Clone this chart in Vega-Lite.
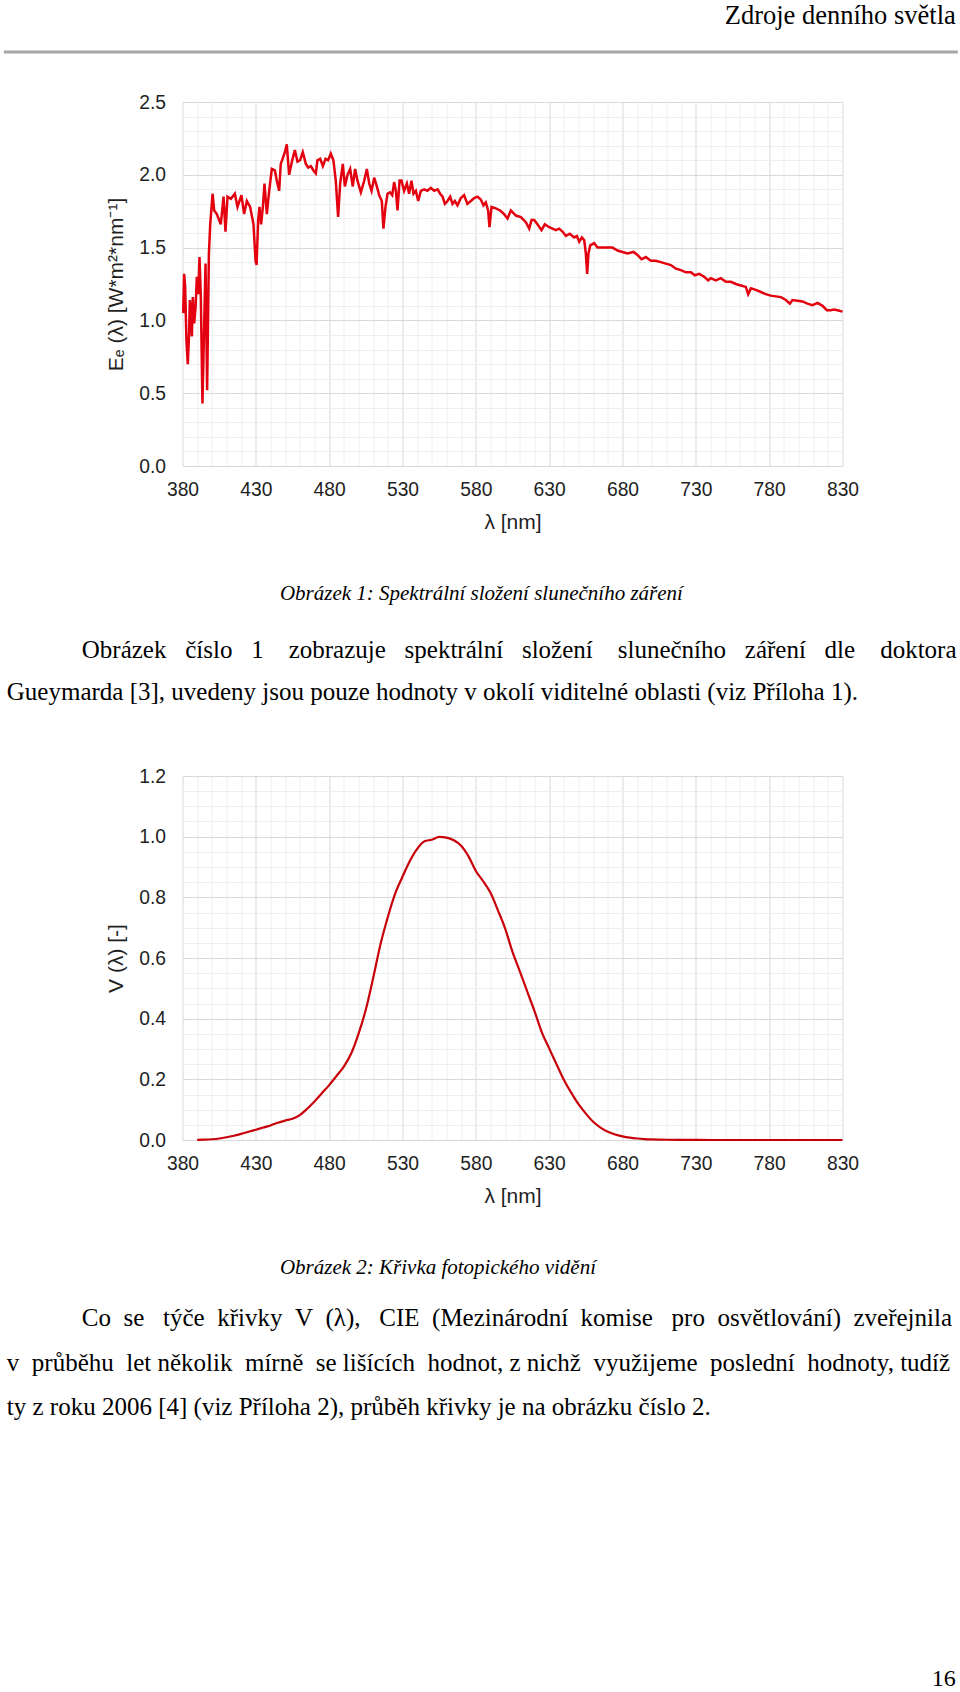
{
  "$schema": "https://vega.github.io/schema/vega-lite/v6.json",
  "background": "white",
  "padding": {"left": 1.5, "top": 3, "right": 0, "bottom": 0},
  "bounds": "flush",
  "spacing": 310,
  "title": {"text": "Zdroje denního světla", "anchor": "end", "orient": "top", "frame": "bounds", "dx": -3.5, "offset": 20.7, "font": "Liberation Serif", "fontSize": 26.5, "fontWeight": "normal", "color": "#000000"},
  "config": {
    "view": {"stroke": null},
    "axis": {"labelFont": "Liberation Sans", "titleFont": "Liberation Sans", "labelColor": "#1f1f1f", "titleColor": "#1f1f1f", "titleFontWeight": "normal", "labelFontSize": 19.3, "titleFontSize": 21, "domain": false, "ticks": false, "labelFlush": false, "labelOverlap": false, "gridWidth": 1}
  },
  "datasets": {
    "sun": [
      {"wl": 380.5, "E": 1.05}, {"wl": 381.1, "E": 1.32}, {"wl": 381.8, "E": 1.23}, {"wl": 382.7, "E": 0.86}, {"wl": 383.6, "E": 0.70},
      {"wl": 384.5, "E": 0.91}, {"wl": 385.0, "E": 1.14}, {"wl": 385.7, "E": 1.05}, {"wl": 386.4, "E": 0.89}, {"wl": 387.0, "E": 1.16},
      {"wl": 388.0, "E": 0.98}, {"wl": 388.9, "E": 1.09}, {"wl": 389.8, "E": 1.30}, {"wl": 390.7, "E": 1.18}, {"wl": 391.6, "E": 1.435},
      {"wl": 392.5, "E": 1.16}, {"wl": 393.6, "E": 0.43}, {"wl": 394.3, "E": 0.75}, {"wl": 395.7, "E": 1.39}, {"wl": 396.8, "E": 0.52},
      {"wl": 398.0, "E": 1.46}, {"wl": 398.9, "E": 1.66}, {"wl": 400.5, "E": 1.87}, {"wl": 401.6, "E": 1.755}, {"wl": 403.4, "E": 1.73},
      {"wl": 406.1, "E": 1.66}, {"wl": 408.0, "E": 1.85}, {"wl": 409.3, "E": 1.61}, {"wl": 410.7, "E": 1.85}, {"wl": 413.0, "E": 1.835},
      {"wl": 415.7, "E": 1.87}, {"wl": 417.5, "E": 1.78}, {"wl": 420.2, "E": 1.86}, {"wl": 422.0, "E": 1.73}, {"wl": 423.9, "E": 1.82},
      {"wl": 426.1, "E": 1.78}, {"wl": 428.4, "E": 1.66}, {"wl": 429.8, "E": 1.41}, {"wl": 430.5, "E": 1.38}, {"wl": 431.6, "E": 1.69},
      {"wl": 432.5, "E": 1.78}, {"wl": 433.6, "E": 1.66}, {"wl": 434.8, "E": 1.78}, {"wl": 435.9, "E": 1.94}, {"wl": 437.5, "E": 1.73},
      {"wl": 439.1, "E": 1.89}, {"wl": 440.9, "E": 2.04}, {"wl": 443.0, "E": 2.03}, {"wl": 444.3, "E": 1.96}, {"wl": 445.9, "E": 1.89},
      {"wl": 447.0, "E": 2.075}, {"wl": 448.6, "E": 2.12}, {"wl": 449.8, "E": 2.155}, {"wl": 451.1, "E": 2.21}, {"wl": 452.7, "E": 2.00},
      {"wl": 454.8, "E": 2.10}, {"wl": 456.6, "E": 2.17}, {"wl": 458.4, "E": 2.09}, {"wl": 460.2, "E": 2.10}, {"wl": 462.0, "E": 2.155},
      {"wl": 464.1, "E": 2.075}, {"wl": 465.7, "E": 2.05}, {"wl": 467.5, "E": 2.06}, {"wl": 469.3, "E": 2.03}, {"wl": 470.9, "E": 2.01},
      {"wl": 472.0, "E": 2.10}, {"wl": 473.9, "E": 2.11}, {"wl": 475.7, "E": 2.06}, {"wl": 477.5, "E": 2.11}, {"wl": 479.3, "E": 2.10},
      {"wl": 481.1, "E": 2.145}, {"wl": 482.9, "E": 2.10}, {"wl": 484.5, "E": 1.96}, {"wl": 486.1, "E": 1.71}, {"wl": 487.5, "E": 1.94},
      {"wl": 489.3, "E": 2.075}, {"wl": 490.7, "E": 1.92}, {"wl": 492.5, "E": 2.00}, {"wl": 494.3, "E": 2.04}, {"wl": 496.1, "E": 1.92},
      {"wl": 497.7, "E": 2.04}, {"wl": 499.3, "E": 1.96}, {"wl": 501.6, "E": 1.88}, {"wl": 503.9, "E": 1.96}, {"wl": 505.7, "E": 2.04},
      {"wl": 507.3, "E": 1.94}, {"wl": 508.9, "E": 1.89}, {"wl": 510.7, "E": 1.98}, {"wl": 512.5, "E": 1.92}, {"wl": 514.1, "E": 1.86},
      {"wl": 515.9, "E": 1.82}, {"wl": 517.0, "E": 1.63}, {"wl": 518.4, "E": 1.78}, {"wl": 519.8, "E": 1.87}, {"wl": 521.4, "E": 1.88},
      {"wl": 523.0, "E": 1.86}, {"wl": 524.3, "E": 1.95}, {"wl": 525.5, "E": 1.89}, {"wl": 526.6, "E": 1.755}, {"wl": 528.0, "E": 1.96},
      {"wl": 529.3, "E": 1.96}, {"wl": 531.1, "E": 1.89}, {"wl": 533.0, "E": 1.94}, {"wl": 534.5, "E": 1.87}, {"wl": 536.1, "E": 1.96},
      {"wl": 537.5, "E": 1.87}, {"wl": 539.1, "E": 1.89}, {"wl": 540.7, "E": 1.82}, {"wl": 542.5, "E": 1.89}, {"wl": 544.8, "E": 1.90},
      {"wl": 547.0, "E": 1.89}, {"wl": 549.3, "E": 1.91}, {"wl": 551.6, "E": 1.89}, {"wl": 553.9, "E": 1.90}, {"wl": 555.7, "E": 1.87},
      {"wl": 557.3, "E": 1.85}, {"wl": 558.9, "E": 1.80}, {"wl": 560.7, "E": 1.82}, {"wl": 562.5, "E": 1.85}, {"wl": 564.1, "E": 1.80},
      {"wl": 565.7, "E": 1.82}, {"wl": 567.5, "E": 1.79}, {"wl": 569.8, "E": 1.84}, {"wl": 572.0, "E": 1.86}, {"wl": 574.3, "E": 1.80},
      {"wl": 576.6, "E": 1.82}, {"wl": 578.9, "E": 1.84}, {"wl": 581.1, "E": 1.85}, {"wl": 583.4, "E": 1.83}, {"wl": 585.2, "E": 1.79},
      {"wl": 586.8, "E": 1.81}, {"wl": 588.4, "E": 1.755}, {"wl": 589.3, "E": 1.64}, {"wl": 590.7, "E": 1.78}, {"wl": 593.6, "E": 1.77},
      {"wl": 596.6, "E": 1.755}, {"wl": 599.3, "E": 1.73}, {"wl": 601.6, "E": 1.70}, {"wl": 603.9, "E": 1.755}, {"wl": 607.3, "E": 1.72},
      {"wl": 610.7, "E": 1.71}, {"wl": 614.1, "E": 1.675}, {"wl": 616.4, "E": 1.63}, {"wl": 618.0, "E": 1.69}, {"wl": 619.8, "E": 1.69},
      {"wl": 622.0, "E": 1.66}, {"wl": 624.8, "E": 1.62}, {"wl": 627.0, "E": 1.66}, {"wl": 630.0, "E": 1.64}, {"wl": 632.3, "E": 1.63},
      {"wl": 634.5, "E": 1.62}, {"wl": 636.8, "E": 1.63}, {"wl": 639.1, "E": 1.61}, {"wl": 641.4, "E": 1.58}, {"wl": 644.1, "E": 1.595},
      {"wl": 647.0, "E": 1.57}, {"wl": 648.9, "E": 1.58}, {"wl": 650.5, "E": 1.54}, {"wl": 652.3, "E": 1.57}, {"wl": 653.9, "E": 1.55},
      {"wl": 655.0, "E": 1.46}, {"wl": 655.9, "E": 1.32}, {"wl": 656.8, "E": 1.46}, {"wl": 658.0, "E": 1.515}, {"wl": 660.7, "E": 1.53},
      {"wl": 663.0, "E": 1.50}, {"wl": 666.4, "E": 1.50}, {"wl": 669.8, "E": 1.50}, {"wl": 673.2, "E": 1.50}, {"wl": 676.6, "E": 1.48},
      {"wl": 680.0, "E": 1.47}, {"wl": 683.4, "E": 1.46}, {"wl": 687.5, "E": 1.47}, {"wl": 690.2, "E": 1.45}, {"wl": 693.0, "E": 1.42},
      {"wl": 695.9, "E": 1.435}, {"wl": 699.3, "E": 1.41}, {"wl": 702.7, "E": 1.41}, {"wl": 706.1, "E": 1.40}, {"wl": 709.5, "E": 1.39},
      {"wl": 713.0, "E": 1.38}, {"wl": 716.4, "E": 1.355}, {"wl": 719.8, "E": 1.345}, {"wl": 723.2, "E": 1.33}, {"wl": 726.6, "E": 1.33},
      {"wl": 729.3, "E": 1.31}, {"wl": 732.3, "E": 1.32}, {"wl": 735.7, "E": 1.30}, {"wl": 738.4, "E": 1.275}, {"wl": 740.2, "E": 1.29},
      {"wl": 743.6, "E": 1.275}, {"wl": 747.0, "E": 1.29}, {"wl": 750.5, "E": 1.265}, {"wl": 753.9, "E": 1.265}, {"wl": 757.3, "E": 1.25},
      {"wl": 760.7, "E": 1.24}, {"wl": 764.1, "E": 1.23}, {"wl": 765.7, "E": 1.18}, {"wl": 767.5, "E": 1.22}, {"wl": 770.9, "E": 1.21},
      {"wl": 774.3, "E": 1.195}, {"wl": 777.7, "E": 1.18}, {"wl": 781.1, "E": 1.17}, {"wl": 784.5, "E": 1.165}, {"wl": 788.0, "E": 1.16},
      {"wl": 791.4, "E": 1.14}, {"wl": 794.1, "E": 1.115}, {"wl": 795.9, "E": 1.14}, {"wl": 799.3, "E": 1.135}, {"wl": 802.7, "E": 1.13},
      {"wl": 806.1, "E": 1.115}, {"wl": 809.5, "E": 1.105}, {"wl": 813.0, "E": 1.12}, {"wl": 816.4, "E": 1.10}, {"wl": 819.3, "E": 1.07},
      {"wl": 822.0, "E": 1.07}, {"wl": 824.3, "E": 1.075}, {"wl": 826.6, "E": 1.07}, {"wl": 830.0, "E": 1.06}
    ],
    "vlam": [
      {"wl": 390, "V": 0.0004}, {"wl": 395, "V": 0.001}, {"wl": 400, "V": 0.0025}, {"wl": 405, "V": 0.005}, {"wl": 410, "V": 0.009},
      {"wl": 415, "V": 0.014}, {"wl": 420, "V": 0.020}, {"wl": 425, "V": 0.027}, {"wl": 430, "V": 0.034}, {"wl": 435, "V": 0.041},
      {"wl": 440, "V": 0.048}, {"wl": 445, "V": 0.057}, {"wl": 450, "V": 0.064}, {"wl": 455, "V": 0.070}, {"wl": 460, "V": 0.082},
      {"wl": 465, "V": 0.103}, {"wl": 470, "V": 0.127}, {"wl": 475, "V": 0.154}, {"wl": 480, "V": 0.181}, {"wl": 485, "V": 0.211},
      {"wl": 490, "V": 0.242}, {"wl": 495, "V": 0.285}, {"wl": 500, "V": 0.350}, {"wl": 505, "V": 0.430}, {"wl": 510, "V": 0.534},
      {"wl": 515, "V": 0.645}, {"wl": 520, "V": 0.735}, {"wl": 525, "V": 0.812}, {"wl": 530, "V": 0.868}, {"wl": 535, "V": 0.920},
      {"wl": 540, "V": 0.960}, {"wl": 545, "V": 0.985}, {"wl": 550, "V": 0.990}, {"wl": 555, "V": 0.999}, {"wl": 560, "V": 0.997},
      {"wl": 565, "V": 0.988}, {"wl": 570, "V": 0.970}, {"wl": 575, "V": 0.935}, {"wl": 580, "V": 0.887}, {"wl": 585, "V": 0.853},
      {"wl": 590, "V": 0.815}, {"wl": 595, "V": 0.758}, {"wl": 600, "V": 0.697}, {"wl": 605, "V": 0.620}, {"wl": 610, "V": 0.556},
      {"wl": 615, "V": 0.490}, {"wl": 620, "V": 0.425}, {"wl": 625, "V": 0.355}, {"wl": 630, "V": 0.302}, {"wl": 635, "V": 0.250},
      {"wl": 640, "V": 0.199}, {"wl": 645, "V": 0.156}, {"wl": 650, "V": 0.118}, {"wl": 655, "V": 0.087}, {"wl": 660, "V": 0.060},
      {"wl": 665, "V": 0.041}, {"wl": 670, "V": 0.027}, {"wl": 675, "V": 0.018}, {"wl": 680, "V": 0.012}, {"wl": 685, "V": 0.0078},
      {"wl": 690, "V": 0.005}, {"wl": 695, "V": 0.0032}, {"wl": 700, "V": 0.0021}, {"wl": 710, "V": 0.0009}, {"wl": 720, "V": 0.0004},
      {"wl": 730, "V": 0.0002}, {"wl": 750, "V": 0.00005}, {"wl": 780, "V": 0.00001}, {"wl": 830, "V": 0.000001}
    ]
  },
  "vconcat": [
    {
      "width": 660,
      "height": 364,
      "layer": [
        {
          "data": {"values": [{"item": "header rule"}]},
          "mark": {"type": "rule", "color": "#a6a6a6", "strokeWidth": 3, "strokeCap": "butt"},
          "encoding": {
            "x": {"datum": 258.2, "type": "quantitative", "scale": {"domain": [380, 830], "nice": false, "zero": false},
              "axis": {"orient": "bottom", "values": [390, 400, 410, 420, 440, 450, 460, 470, 490, 500, 510, 520, 540, 550, 560, 570, 590, 600, 610, 620, 640, 650, 660, 670, 690, 700, 710, 720, 740, 750, 760, 770, 790, 800, 810, 820],
                "grid": true, "gridColor": "#eeeeee", "labels": false,
                "title": "Obrázek 1: Spektrální složení slunečního záření", "titleFont": "Liberation Serif", "titleFontStyle": "italic", "titleFontSize": 21, "titleColor": "#000000",
                "titleX": 96.9, "titleY": 127.3, "titleAlign": "left", "titleAnchor": "start", "titleBaseline": "middle"}},
            "x2": {"datum": 908.6},
            "y": {"datum": 2.8434, "type": "quantitative", "scale": {"domain": [0, 2.5], "nice": false, "zero": false},
              "axis": {"orient": "left", "values": [0.1, 0.2, 0.3, 0.4, 0.6, 0.7, 0.8, 0.9, 1.1, 1.2, 1.3, 1.4, 1.6, 1.7, 1.8, 1.9, 2.1, 2.2, 2.3, 2.4],
                "grid": true, "gridColor": "#eeeeee", "labels": false,
                "title": ["\u200b\u00a0\u00a0\u00a0\u00a0\u00a0\u00a0\u00a0\u00a0\u00a0\u00a0\u00a0\u00a0Obrázek\u00a0\u00a0\u00a0číslo\u00a0\u00a0\u00a01\u00a0\u00a0\u00a0\u00a0zobrazuje\u00a0\u00a0\u00a0spektrální\u00a0\u00a0\u00a0složení\u00a0\u00a0\u00a0\u00a0slunečního\u00a0\u00a0\u00a0záření\u00a0\u00a0\u00a0dle\u00a0\u00a0\u00a0\u00a0doktora", "Gueymarda [3], uvedeny jsou pouze hodnoty v okolí viditelné oblasti (viz Příloha 1)."],
                "titleFont": "Liberation Serif", "titleFontSize": 25, "titleColor": "#000000", "titleAngle": 0, "titleAlign": "left", "titleBaseline": "alphabetic",
                "titleX": -176.2, "titleY": 555.3, "titleLineHeight": 42}}
          }
        },
        {
          "data": {"name": "sun"},
          "mark": {"type": "line", "color": "#e3000f", "strokeWidth": 2.5},
          "encoding": {
            "x": {"field": "wl", "type": "quantitative", "scale": {"domain": [380, 830], "nice": false, "zero": false},
              "axis": {"orient": "bottom", "values": [380, 430, 480, 530, 580, 630, 680, 730, 780, 830], "grid": true, "gridColor": "#d9d9d9", "labelPadding": 14, "title": "λ [nm]", "titlePadding": 12}},
            "y": {"field": "E", "type": "quantitative", "scale": {"domain": [0, 2.5], "nice": false, "zero": false},
              "axis": {"orient": "left", "values": [0, 0.5, 1, 1.5, 2, 2.5], "format": ".1f", "grid": true, "gridColor": "#d9d9d9", "labelPadding": 17, "title": "Eₑ (λ) [W*m²*nm⁻¹]", "titlePadding": 12}}
          }
        }
      ],
      "resolve": {"axis": {"x": "independent", "y": "independent"}}
    },
    {
      "width": 660,
      "height": 364,
      "title": {"text": "16", "orient": "bottom", "anchor": "end", "frame": "group", "dx": 113.3, "offset": 248, "font": "Liberation Serif", "fontSize": 24, "fontWeight": "normal", "color": "#000000"},
      "data": {"name": "vlam"},
      "layer": [
        {
          "mark": {"type": "line", "strokeOpacity": 0},
          "encoding": {
            "x": {"field": "wl", "type": "quantitative", "scale": {"domain": [380, 830], "nice": false, "zero": false},
              "axis": {"orient": "bottom", "values": [390, 400, 410, 420, 440, 450, 460, 470, 490, 500, 510, 520, 540, 550, 560, 570, 590, 600, 610, 620, 640, 650, 660, 670, 690, 700, 710, 720, 740, 750, 760, 770, 790, 800, 810, 820],
                "grid": true, "gridColor": "#eeeeee", "labels": false,
                "title": "Obrázek 2: Křivka fotopického vidění", "titleFont": "Liberation Serif", "titleFontStyle": "italic", "titleFontSize": 21, "titleColor": "#000000",
                "titleX": 96.9, "titleY": 127.5, "titleAlign": "left", "titleAnchor": "start", "titleBaseline": "middle"}},
            "y": {"field": "V", "type": "quantitative", "scale": {"domain": [0, 1.2], "nice": false, "zero": false},
              "axis": {"orient": "left", "values": [0.05, 0.1, 0.15, 0.25, 0.3, 0.35, 0.45, 0.5, 0.55, 0.65, 0.7, 0.75, 0.85, 0.9, 0.95, 1.05, 1.1, 1.15],
                "grid": true, "gridColor": "#eeeeee", "labels": false,
                "title": ["\u200b\u00a0\u00a0\u00a0\u00a0\u00a0\u00a0\u00a0\u00a0\u00a0\u00a0\u00a0\u00a0Co\u00a0\u00a0se\u00a0\u00a0\u00a0týče\u00a0\u00a0křivky\u00a0\u00a0V\u00a0\u00a0(λ),\u00a0\u00a0\u00a0CIE\u00a0\u00a0(Mezinárodní\u00a0\u00a0komise\u00a0\u00a0\u00a0pro\u00a0\u00a0osvětlování)\u00a0\u00a0zveřejnila", "v\u00a0\u00a0průběhu\u00a0\u00a0let\u00a0několik\u00a0\u00a0mírně\u00a0\u00a0se\u00a0lišících\u00a0\u00a0hodnot,\u00a0z\u00a0nichž\u00a0\u00a0využijeme\u00a0\u00a0poslední\u00a0\u00a0hodnoty,\u00a0tudíž", "ty z roku 2006 [4] (viz Příloha 2), průběh křivky je na obrázku číslo 2."],
                "titleFont": "Liberation Serif", "titleFontSize": 25, "titleColor": "#000000", "titleAngle": 0, "titleAlign": "left", "titleBaseline": "alphabetic",
                "titleX": -176.2, "titleY": 549.8, "titleLineHeight": 44.3}}
          }
        },
        {
          "mark": {"type": "line", "color": "#c8000a", "strokeWidth": 2.2, "interpolate": "monotone"},
          "encoding": {
            "x": {"field": "wl", "type": "quantitative", "scale": {"domain": [380, 830], "nice": false, "zero": false},
              "axis": {"orient": "bottom", "values": [380, 430, 480, 530, 580, 630, 680, 730, 780, 830], "grid": true, "gridColor": "#d9d9d9", "labelPadding": 14, "title": "λ [nm]", "titlePadding": 12}},
            "y": {"field": "V", "type": "quantitative", "scale": {"domain": [0, 1.2], "nice": false, "zero": false},
              "axis": {"orient": "left", "values": [0, 0.2, 0.4, 0.6, 0.8, 1.0, 1.2], "format": ".1f", "grid": true, "gridColor": "#d9d9d9", "labelPadding": 17, "title": "V (λ) [-]", "titlePadding": 12}}
          }
        }
      ],
      "resolve": {"axis": {"x": "independent", "y": "independent"}}
    }
  ]
}
